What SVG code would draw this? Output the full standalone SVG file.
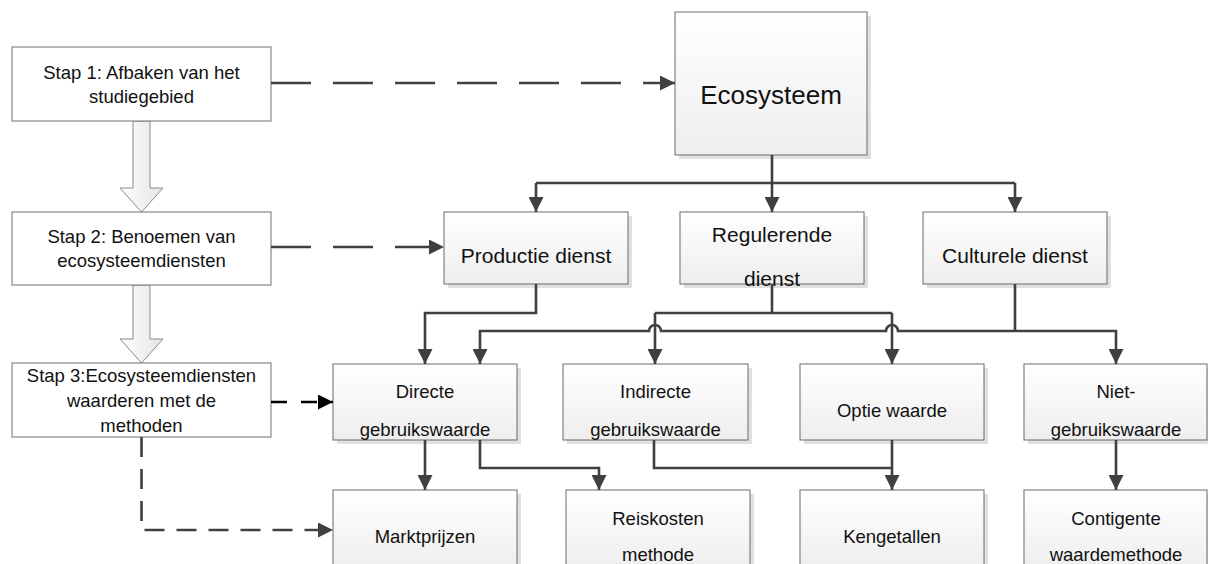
<svg xmlns="http://www.w3.org/2000/svg" width="1208" height="564" viewBox="0 0 1208 564">
<defs>
<linearGradient id="g" x1="0" y1="0" x2="0" y2="1">
<stop offset="0" stop-color="#ffffff"/>
<stop offset="1" stop-color="#eeeeee"/>
</linearGradient>
<linearGradient id="ha" x1="0" y1="0" x2="1" y2="0">
<stop offset="0" stop-color="#ffffff"/>
<stop offset="1" stop-color="#e4e4e4"/>
</linearGradient>
<marker id="ah" viewBox="0 0 10 10" refX="10" refY="5" markerWidth="15" markerHeight="15" markerUnits="userSpaceOnUse" orient="auto">
<path d="M0,0 L10,5 L0,10 z" fill="#404040"/>
</marker>
<marker id="ahk" viewBox="0 0 10 10" refX="10" refY="5" markerWidth="15" markerHeight="15" markerUnits="userSpaceOnUse" orient="auto">
<path d="M0,0 L10,5 L0,10 z" fill="#000"/>
</marker>
</defs>
<style>
.step{fill:#fff;stroke:#707070;stroke-width:1}
.box{fill:url(#g);stroke:#6a6a6a;stroke-width:1}
.sh{fill:#e0e0e0}
.t{font-family:"Liberation Sans",Arial,sans-serif;font-size:18.5px;fill:#111;text-anchor:middle}
.t2{font-family:"Liberation Sans",Arial,sans-serif;font-size:21px;fill:#111;text-anchor:middle}
.t3{font-family:"Liberation Sans",Arial,sans-serif;font-size:26px;fill:#111;text-anchor:middle}
.c{fill:none;stroke:#404040;stroke-width:2.6}
.d{fill:none;stroke:#404040;stroke-width:2.6;stroke-dasharray:40 22}
.hol{fill:url(#ha);stroke:#8a8a8a;stroke-width:1}
</style>
<rect width="1208" height="564" fill="#fff"/>

<g id="hollow-arrows">
<path class="hol" d="M133,121 L150,121 L150,188 L163,188 L141.5,212 L120,188 L133,188 Z"/>
<path class="hol" d="M133,285 L150,285 L150,339 L163,339 L141.5,363 L120,339 L133,339 Z"/>
</g>

<g id="step1"><rect class="step" x="12" y="47" width="259" height="74"/>
<text class="t" x="141.5" y="79">Stap 1: Afbaken van het</text>
<text class="t" x="141.5" y="103">studiegebied</text></g>
<g id="step2"><rect class="step" x="12" y="212" width="259" height="73"/>
<text class="t" x="141.5" y="243">Stap 2: Benoemen van</text>
<text class="t" x="141.5" y="267">ecosysteemdiensten</text></g>
<g id="step3"><rect class="step" x="12" y="363" width="259" height="74"/>
<text class="t" x="141.5" y="382">Stap 3:Ecosysteemdiensten</text>
<text class="t" x="141.5" y="407">waarderen met de</text>
<text class="t" x="141.5" y="432">methoden</text></g>

<g id="ecosysteem"><rect class="sh" x="679" y="16" width="192" height="143"/><rect class="box" x="675" y="12" width="192" height="143"/>
<text class="t3" x="771" y="104">Ecosysteem</text></g>

<g id="productie"><rect class="sh" x="448" y="216" width="184" height="72"/><rect class="box" x="444" y="212" width="184" height="72"/>
<text class="t2" x="536" y="263">Productie dienst</text></g>
<g id="regulerende"><rect class="sh" x="684" y="216" width="184" height="72"/><rect class="box" x="680" y="212" width="184" height="72"/>
<text class="t2" x="772" y="242">Regulerende</text>
<text class="t2" x="772" y="286">dienst</text></g>
<g id="culturele"><rect class="sh" x="927" y="216" width="184" height="72"/><rect class="box" x="923" y="212" width="184" height="72"/>
<text class="t2" x="1015" y="263">Culturele dienst</text></g>

<g id="directe"><rect class="sh" x="337" y="368" width="184" height="76"/><rect class="box" x="333" y="364" width="184" height="76"/>
<text class="t" x="425" y="398">Directe</text>
<text class="t" x="425" y="436">gebruikswaarde</text></g>
<g id="indirecte"><rect class="sh" x="567" y="368" width="185" height="76"/><rect class="box" x="563" y="364" width="185" height="76"/>
<text class="t" x="655.5" y="398">Indirecte</text>
<text class="t" x="655.5" y="436">gebruikswaarde</text></g>
<g id="optie"><rect class="sh" x="804" y="368" width="184" height="76"/><rect class="box" x="800" y="364" width="184" height="76"/>
<text class="t" x="892" y="417">Optie waarde</text></g>
<g id="niet"><rect class="sh" x="1028" y="368" width="184" height="76"/><rect class="box" x="1024" y="364" width="183" height="76"/>
<text class="t" x="1116" y="398">Niet-</text>
<text class="t" x="1116" y="436">gebruikswaarde</text></g>

<g id="marktprijzen"><rect class="sh" x="337" y="494" width="184" height="80"/><rect class="box" x="333" y="490" width="184" height="80"/>
<text class="t" x="425" y="543">Marktprijzen</text></g>
<g id="reiskosten"><rect class="sh" x="570" y="494" width="184" height="80"/><rect class="box" x="566" y="490" width="184" height="80"/>
<text class="t" x="658" y="525">Reiskosten</text>
<text class="t" x="658" y="561">methode</text></g>
<g id="kengetallen"><rect class="sh" x="804" y="494" width="184" height="80"/><rect class="box" x="800" y="490" width="184" height="80"/>
<text class="t" x="892" y="543">Kengetallen</text></g>
<g id="contigente"><rect class="sh" x="1028" y="494" width="184" height="80"/><rect class="box" x="1024" y="490" width="183" height="80"/>
<text class="t" x="1116" y="525">Contigente</text>
<text class="t" x="1116" y="561">waardemethode</text></g>

<g id="connectors">
<path class="d" d="M271,83 L675,83" marker-end="url(#ah)"/>
<path class="d" d="M271,247 L444,247" marker-end="url(#ah)"/>
<path d="M271,402 L333,402" fill="none" stroke="#000" stroke-width="2.6" stroke-dasharray="16 14" marker-end="url(#ahk)"/>
<path d="M141.5,437 L141.5,530 L333,530" fill="none" stroke="#404040" stroke-width="2.6" stroke-dasharray="20 12" marker-end="url(#ah)"/>

<path class="c" d="M772,155 L772,212" marker-end="url(#ah)"/>
<path class="c" d="M536,183 L1015,183"/>
<path class="c" d="M536,183 L536,212" marker-end="url(#ah)"/>
<path class="c" d="M1015,183 L1015,212" marker-end="url(#ah)"/>

<path class="c" d="M536,284 L536,313 L425,313 L425,364" marker-end="url(#ah)"/>
<path class="c" d="M772,284 L772,313"/>
<path class="c" d="M655,313 L892,313"/>
<path class="c" d="M655,313 L655,364" marker-end="url(#ah)"/>
<path class="c" d="M892,313 L892,364" marker-end="url(#ah)"/>
<path class="c" d="M1015,284 L1015,331"/>
<path class="c" d="M1015,331 L898,331 A6,6 0 0 0 886,331 L661,331 A6,6 0 0 0 649,331 L480,331 L480,364" marker-end="url(#ah)"/>
<path class="c" d="M1015,331 L1116,331 L1116,364" marker-end="url(#ah)"/>

<path class="c" d="M425,440 L425,490" marker-end="url(#ah)"/>
<path class="c" d="M480,440 L480,468 L599,468 L599,490" marker-end="url(#ah)"/>
<path class="c" d="M654,440 L654,468 L892,468"/>
<path class="c" d="M892,440 L892,490" marker-end="url(#ah)"/>
<path class="c" d="M1116,440 L1116,490" marker-end="url(#ah)"/>
</g>
</svg>
